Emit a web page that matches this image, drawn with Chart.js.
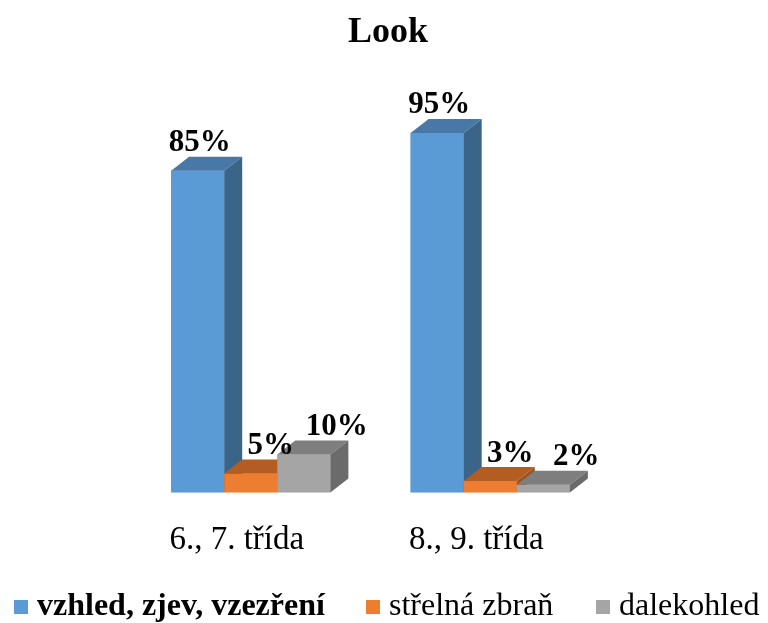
<!DOCTYPE html>
<html>
<head>
<meta charset="utf-8">
<script src="https://cdn.jsdelivr.net/npm/chart.js@4/dist/chart.umd.min.js"></script>
<style>
	body { margin: 0; background: #fff; }
	#wrap { position: relative; width: 768px; height: 623px; }
	#title { position: absolute; left: 288px; top: 9px; width: 200px; text-align: center;
		font-family: "Liberation Serif", serif; font-size: 36px; font-weight: bold; line-height: 42px; }
	#legend { position: absolute; left: 0; top: 586px; width: 768px; height: 36px;
		font-family: "Liberation Serif", serif; font-size: 32px; color: #000; }
	.item { position: absolute; top: 0; white-space: nowrap; line-height: 36px; }
	.box { display: inline-block; width: 14px; height: 14px; margin-right: 9px; vertical-align: 1px; }
</style>
</head>
<body>
<div id="wrap">
	<canvas id="chart" width="768" height="623"></canvas>
	<div id="title">Look</div>
	<div id="legend"></div>
</div>
<script>
const categories = ["6., 7. třída", "8., 9. třída"];
const seriesNames = ["vzhled, zjev, vzezření", "střelná zbraň", "dalekohled"];
const lookValues = [85, 95];
const gunValues = [5, 3];
const telescopeValues = [10, 2];

const frontColors = ["#5B9BD5", "#ED7D31", "#A5A5A5"];
const topColors = ["#4878A8", "#B45D22", "#7E7E7E"];
const sideColors = ["#3B6489", "#9E5220", "#6B6B6B"];
const labelShift = [2, 20, 33];

const depthX = 18;
const depthY = -14;

// fake 3D: repaint each bar with top + side faces, in dataset order
const bar3d = {
	id: "bar3d",
	afterDatasetsDraw(chart) {
		const ctx = chart.ctx;
		const count = chart.data.labels.length;
		ctx.save();
		for (let c = 0; c < count; c++) {
			chart.data.datasets.forEach((ds, i) => {
				const el = chart.getDatasetMeta(i).data[c];
				const left = el.x - el.width / 2;
				const right = el.x + el.width / 2;
				const top = el.y;
				const base = el.base;
				ctx.fillStyle = frontColors[i];
				ctx.fillRect(left, top, right - left, base - top);
				ctx.fillStyle = topColors[i];
				ctx.beginPath();
				ctx.moveTo(left, top);
				ctx.lineTo(left + depthX, top + depthY);
				ctx.lineTo(right + depthX, top + depthY);
				ctx.lineTo(right, top);
				ctx.closePath();
				ctx.fill();
				ctx.fillStyle = sideColors[i];
				ctx.beginPath();
				ctx.moveTo(right, top);
				ctx.lineTo(right + depthX, top + depthY);
				ctx.lineTo(right + depthX, base + depthY);
				ctx.lineTo(right, base);
				ctx.closePath();
				ctx.fill();
			});
		}
		// value labels
		ctx.fillStyle = "#000";
		ctx.font = "bold 31px 'Liberation Serif'";
		ctx.textAlign = "center";
		ctx.textBaseline = "bottom";
		chart.data.datasets.forEach((ds, i) => {
			chart.getDatasetMeta(i).data.forEach((el, c) => {
				ctx.fillText(ds.data[c] + "%", el.x + labelShift[i], el.y + depthY + 2);
			});
		});
		ctx.restore();
	},
};

const ctx = document.getElementById("chart").getContext("2d");
new Chart(ctx, {
	type: "bar",
	data: {
		labels: categories,
		datasets: [
			{ label: seriesNames[0], data: lookValues, backgroundColor: frontColors[0] },
			{ label: seriesNames[1], data: gunValues, backgroundColor: frontColors[1] },
			{ label: seriesNames[2], data: telescopeValues, backgroundColor: frontColors[2] },
		],
	},
	options: {
		responsive: false,
		animation: false,
		categoryPercentage: 0.665,
		barPercentage: 1,
		layout: {
			padding: { left: 131, right: 158, top: 114, bottom: 35 },
		},
		scales: {
			x: {
				grid: { display: false, drawTicks: false },
				border: { display: false },
				ticks: {
					color: "#000",
					padding: 28,
					maxRotation: 0,
					labelOffset: -14,
					font: { family: "'Liberation Serif'", size: 33 },
				},
			},
			y: {
				display: false,
				min: 0,
				max: 100,
			},
		},
		plugins: {
			legend: { display: false },
			tooltip: { enabled: false },
			title: { display: false },
		},
	},
	plugins: [bar3d],
});

const legendLefts = [14, 366, 596];
const legend = document.getElementById("legend");
seriesNames.forEach((name, i) => {
	const item = document.createElement("span");
	item.className = "item";
	item.style.left = legendLefts[i] + "px";
	if (i === 0) item.style.fontWeight = "bold";
	const box = document.createElement("span");
	box.className = "box";
	box.style.background = frontColors[i];
	item.appendChild(box);
	item.appendChild(document.createTextNode(name));
	legend.appendChild(item);
});
</script>
</body>
</html>
